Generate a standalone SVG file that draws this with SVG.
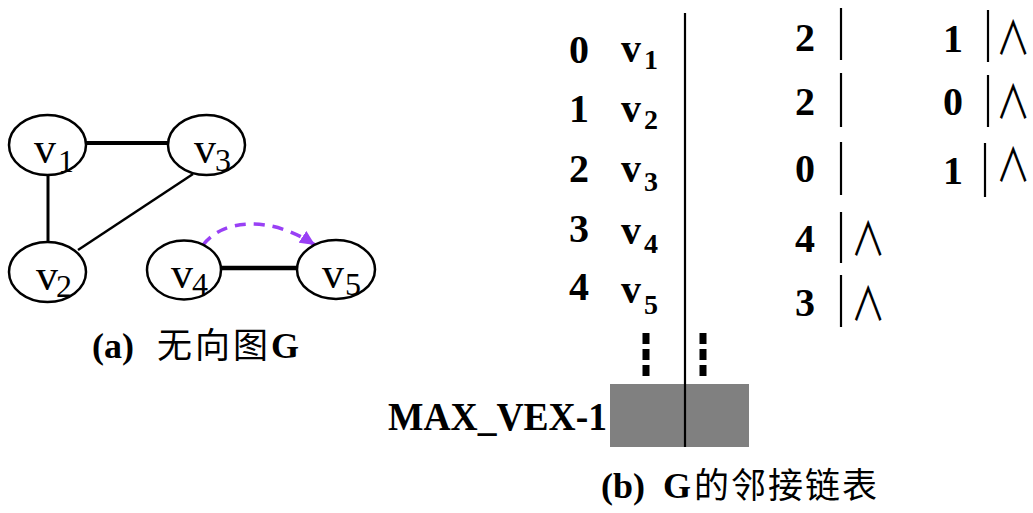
<svg xmlns="http://www.w3.org/2000/svg" width="1033" height="513" viewBox="0 0 1033 513">
<style>
.node{fill:#fff;stroke:#000;stroke-width:2.5}
.lv{font-family:"Liberation Serif","Times New Roman",serif;font-size:44px;fill:#000}
.ls{font-family:"Liberation Serif","Times New Roman",serif;font-size:32px;fill:#000}
.bd{font-family:"Liberation Serif","Times New Roman",serif;font-weight:bold;font-size:40px;fill:#000}
.bs{font-family:"Liberation Serif","Times New Roman",serif;font-weight:bold;font-size:28px;fill:#000}
.cap{font-family:"Liberation Serif","Times New Roman",serif;font-weight:bold;font-size:36px;fill:#000}
.cjk{font-family:"Noto Sans CJK SC",sans-serif;font-weight:normal;font-size:35px;fill:#000}
.nil{font-family:"Noto Sans CJK SC","DejaVu Sans",sans-serif;font-weight:400;font-size:44px;fill:#000}
.bar{stroke:#000;stroke-width:2.2}
.edge{stroke:#000;fill:none}
</style>
<defs>
<marker id="arr" markerUnits="userSpaceOnUse" markerWidth="16" markerHeight="14" refX="15" refY="7" orient="auto">
<path d="M0,0 L15,7 L0,14 z" fill="#9940F5"/>
</marker>
</defs>
<rect width="1033" height="513" fill="#fff"/>

<g id="connectors">
<line class="edge" x1="86" y1="143" x2="168" y2="143" stroke-width="4"/>
<line class="edge" x1="48" y1="175" x2="48" y2="242" stroke-width="3"/>
<line class="edge" x1="193" y1="174" x2="78" y2="250" stroke-width="2.5"/>
<line class="edge" x1="221" y1="268" x2="297" y2="268" stroke-width="4.5"/>
<path d="M203,245 C222,220 268,214 315,245" fill="none" stroke="#9940F5" stroke-width="3.5" stroke-dasharray="11 8" marker-end="url(#arr)"/>
</g>

<g id="v1"><ellipse class="node" cx="47.5" cy="145" rx="38.5" ry="30"/><text class="lv" x="34" y="163">v</text><text class="ls" x="58" y="172">1</text></g>
<g id="v3"><ellipse class="node" cx="206.5" cy="145" rx="38.5" ry="30"/><text class="lv" x="194" y="163">v</text><text class="ls" x="215" y="171">3</text></g>
<g id="v2"><ellipse class="node" cx="47.5" cy="272" rx="38.5" ry="30"/><text class="lv" x="36" y="290">v</text><text class="ls" x="56" y="297">2</text></g>
<g id="v4"><ellipse class="node" cx="184" cy="270" rx="37" ry="29.5"/><text class="lv" x="171" y="288">v</text><text class="ls" x="192" y="295">4</text></g>
<g id="v5"><ellipse class="node" cx="336" cy="269.5" rx="39" ry="29.5"/><text class="lv" x="322" y="288">v</text><text class="ls" x="345" y="295">5</text></g>

<g id="caption-a"><text x="92" y="358"><tspan class="cap">(a)</tspan><tspan class="cjk" x="157">无</tspan><tspan class="cjk" x="195">向</tspan><tspan class="cjk" x="233">图</tspan><tspan class="cap" x="271">G</tspan></text></g>

<g id="vertex-table">
<line class="bar" x1="685" y1="13" x2="685" y2="384"/>
<text class="bd" x="569" y="63">0</text><text class="bd" x="621" y="62">v</text><text class="bs" x="644" y="69">1</text>
<text class="bd" x="569" y="122">1</text><text class="bd" x="621" y="122">v</text><text class="bs" x="644" y="129">2</text>
<text class="bd" x="569" y="182">2</text><text class="bd" x="621" y="182">v</text><text class="bs" x="644" y="191">3</text>
<text class="bd" x="569" y="242">3</text><text class="bd" x="621" y="244">v</text><text class="bs" x="644" y="253">4</text>
<text class="bd" x="569" y="300">4</text><text class="bd" x="621" y="303">v</text><text class="bs" x="644" y="314">5</text>
<line x1="646" y1="333" x2="646" y2="377" stroke="#000" stroke-width="7" stroke-dasharray="11 5"/>
<line x1="703" y1="333" x2="703" y2="377" stroke="#000" stroke-width="7" stroke-dasharray="11 5"/>
</g>

<g id="max-row">
<rect x="610" y="384" width="139" height="63" fill="#808080"/>
<line class="bar" x1="685" y1="384" x2="685" y2="447"/>
<text class="bd" x="388" y="430" font-size="37" textLength="219" lengthAdjust="spacingAndGlyphs">MAX_VEX-1</text>
</g>

<g id="list0">
<text class="bd" x="795" y="51">2</text><line class="bar" x1="841" y1="8" x2="841" y2="60"/>
<text class="bd" x="943" y="52">1</text><line class="bar" x1="988" y1="10" x2="988" y2="62"/>
<text class="nil" transform="translate(996,55) scale(0.78,1.05)">∧</text>
</g>
<g id="list1">
<text class="bd" x="795" y="115">2</text><line class="bar" x1="841" y1="73" x2="841" y2="127"/>
<text class="bd" x="943" y="115">0</text><line class="bar" x1="988" y1="75" x2="988" y2="127"/>
<text class="nil" transform="translate(996,119) scale(0.78,1.05)">∧</text>
</g>
<g id="list2">
<text class="bd" x="795" y="182">0</text><line class="bar" x1="841" y1="142" x2="841" y2="195"/>
<text class="bd" x="943" y="184">1</text><line class="bar" x1="985" y1="143" x2="985" y2="197"/>
<text class="nil" transform="translate(996,182) scale(0.78,1.05)">∧</text>
</g>
<g id="list3">
<text class="bd" x="795" y="252">4</text><line class="bar" x1="841" y1="212" x2="841" y2="263"/>
<text class="nil" transform="translate(851,256) scale(0.78,1.05)">∧</text>
</g>
<g id="list4">
<text class="bd" x="795" y="316">3</text><line class="bar" x1="841" y1="275" x2="841" y2="327"/>
<text class="nil" transform="translate(851,321) scale(0.78,1.05)">∧</text>
</g>

<g id="caption-b"><text x="601" y="498"><tspan class="cap">(b)</tspan><tspan class="cap" x="663">G</tspan><tspan class="cjk" x="694">的</tspan><tspan class="cjk" x="731">邻</tspan><tspan class="cjk" x="768">接</tspan><tspan class="cjk" x="805">链</tspan><tspan class="cjk" x="842">表</tspan></text></g>
</svg>
